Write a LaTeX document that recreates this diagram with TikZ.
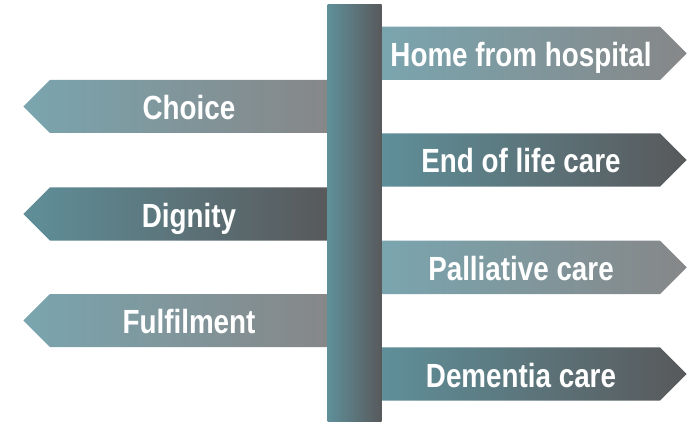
\documentclass[tikz,border=0pt]{standalone}
\usepackage{graphicx}
\usepackage{fontspec}
\setmainfont{Liberation Sans}
\definecolor{tealL}{HTML}{7AA5AF}
\definecolor{grayL}{HTML}{868788}
\definecolor{tealD}{HTML}{5F8F99}
\definecolor{grayD}{HTML}{58595B}
\newcommand{\signtext}[1]{\scalebox{0.83}[1]{#1}}
\tikzset{
  lightsign/.style={left color=tealL, right color=grayL, draw=none},
  darksign/.style={left color=tealD, right color=grayD, draw=none},
  postbar/.style={left color=tealD, right color=grayD, draw=none},
  label/.style={text=white, font=\bfseries\fontsize{33.5}{36}\selectfont, anchor=base, inner sep=0pt}
}
\begin{document}
\begin{tikzpicture}[x=1pt,y=-1pt]
\useasboundingbox (0,0) rectangle (693,422);
% left signs (pointing west)
\shade[lightsign] (23.3,106.5) -- (50,80) -- (328,80) -- (328,133) -- (50,133) -- cycle;
\shade[darksign] (23.3,214) -- (50,187.3) -- (328,187.3) -- (328,240.7) -- (50,240.7) -- cycle;
\shade[lightsign] (23.3,320.5) -- (50,294) -- (328,294) -- (328,347) -- (50,347) -- cycle;
% right signs (pointing east)
\shade[lightsign] (382,26.7) -- (660,26.7) -- (686.7,53.3) -- (660,80) -- (382,80) -- cycle;
\shade[darksign] (382,133.3) -- (660,133.3) -- (686.7,160) -- (660,186.7) -- (382,186.7) -- cycle;
\shade[lightsign] (382,240.7) -- (660,240.7) -- (686.7,267.3) -- (660,294) -- (382,294) -- cycle;
\shade[darksign] (382,347.3) -- (660,347.3) -- (686.7,374) -- (660,400.7) -- (382,400.7) -- cycle;
% post
\shade[postbar] (327.7,5) rectangle (381.7,422);
\node[inner sep=0pt] (post) at (354.7,213.5) {};
% labels
\node[label] (choice) at (189,119.5) {\signtext{Choice}};
\node[label] (dignity) at (189,227) {\signtext{Dignity}};
\node[label] (fulfil) at (189,333.5) {\signtext{Fulfilment}};
\node[label] (home) at (521,66.3) {\signtext{Home from hospital}};
\node[label] (eol) at (521,173) {\signtext{End of life care}};
\node[label] (pall) at (521,280.3) {\signtext{Palliative care}};
\node[label] (dem) at (521,387) {\signtext{Dementia care}};
\end{tikzpicture}
\end{document}
